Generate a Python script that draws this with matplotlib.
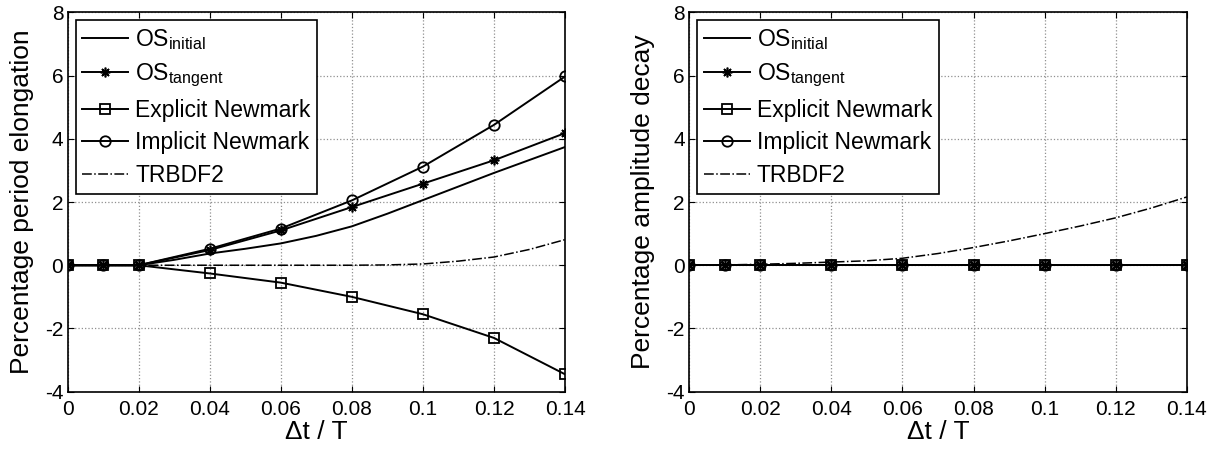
import numpy as np
import matplotlib
matplotlib.use('Agg')
import matplotlib.pyplot as plt
from matplotlib.ticker import FuncFormatter

plt.rcParams['font.family'] = ['Liberation Sans', 'DejaVu Sans']
plt.rcParams['mathtext.default'] = 'regular'
plt.rcParams['axes.unicode_minus'] = False

# marker points
dt = [0, 0.01, 0.02, 0.04, 0.06, 0.08, 0.1, 0.12, 0.14]
# smooth curves read at 0.01 steps
dt_fine = [0, 0.01, 0.02, 0.03, 0.04, 0.05, 0.06, 0.07, 0.08, 0.09, 0.1, 0.11, 0.12, 0.13, 0.14]

# period elongation (%)
pe_os_initial = [0, 0, 0, 0.17, 0.37, 0.52, 0.69, 0.93, 1.23, 1.63, 2.06, 2.49, 2.92, 3.33, 3.74]
pe_os_tangent = [0, 0, 0, 0.48, 1.1, 1.84, 2.58, 3.32, 4.18]
pe_explicit = [0, 0, 0, -0.26, -0.55, -1.0, -1.55, -2.3, -3.45]
pe_implicit = [0, 0, 0, 0.52, 1.16, 2.05, 3.12, 4.44, 5.97]
pe_trbdf2 = [0, 0, 0, 0, 0, 0, 0, 0, 0, 0.01, 0.04, 0.13, 0.26, 0.5, 0.81]

# amplitude decay (%)
ad_os_initial = [0, 0, 0, 0, 0, 0, 0, 0, 0, 0, 0, 0, 0, 0, 0]
ad_os_tangent = [0, 0, 0, 0, 0, 0, 0, 0, 0]
ad_explicit = [0, 0, 0, 0, 0, 0, 0, 0, 0]
ad_implicit = [0, 0, 0, 0, 0, 0, 0, 0, 0]
ad_trbdf2 = [0, 0.01, 0.03, 0.06, 0.1, 0.14, 0.22, 0.37, 0.56, 0.77, 1.0, 1.24, 1.5, 1.81, 2.16]

labels = [r'OS$_{initial}$', r'OS$_{tangent}$', 'Explicit Newmark',
          'Implicit Newmark', 'TRBDF2']
xticks = [0, 0.02, 0.04, 0.06, 0.08, 0.1, 0.12, 0.14]
yticks = [-4, -2, 0, 2, 4, 6, 8]

fig = plt.figure(figsize=(12.21, 4.51), dpi=100)
ax1 = fig.add_axes([0.0553, 0.1315, 0.4075, 0.8412])
ax2 = fig.add_axes([0.5643, 0.1315, 0.4078, 0.8412])

panels = [
    (ax1, pe_os_initial, pe_os_tangent, pe_explicit, pe_implicit, pe_trbdf2,
     'Percentage period elongation'),
    (ax2, ad_os_initial, ad_os_tangent, ad_explicit, ad_implicit, ad_trbdf2,
     'Percentage amplitude decay'),
]

for ax, osi, ost, exn, imn, trb, ylab in panels:
    lw = 1.4
    ax.plot(dt_fine, osi, '-', color='k', lw=lw, label=labels[0])
    # asterisk marker like MATLAB '*'
    ax.plot(dt, ost, '-', color='k', lw=lw, marker=(8, 2, 0), ms=7, mew=1.2,
            label=labels[1])
    ax.plot(dt, exn, '-', color='k', lw=lw, marker='s', ms=7, mfc='none', mew=1.3,
            label=labels[2])
    ax.plot(dt, imn, '-', color='k', lw=lw, marker='o', ms=7.5, mfc='none', mew=1.3,
            label=labels[3])
    ax.plot(dt_fine, trb, '-.', color='k', lw=1.1, label=labels[4])

    ax.set_xlim(0, 0.14)
    ax.set_ylim(-4, 8)
    ax.set_xticks(xticks)
    ax.set_yticks(yticks)
    ax.xaxis.set_major_formatter(FuncFormatter(lambda v, p: '%g' % v))
    ax.yaxis.set_major_formatter(FuncFormatter(lambda v, p: '%g' % v))
    ax.tick_params(direction='in', top=True, right=True, length=4, width=0.8,
                   labelsize=15)
    ax.tick_params(axis='x', pad=6)
    ax.tick_params(axis='y', pad=3)
    ax.grid(True, color='#909090', linestyle=':', linewidth=0.9)
    for s in ax.spines.values():
        s.set_linewidth(1.2)
    ax.set_xlabel('\u0394t / T', fontsize=19, labelpad=1)
    ax.set_ylabel(ylab, fontsize=19, labelpad=8)

    leg = ax.legend(loc='upper left', fontsize=16.5, frameon=True, fancybox=False,
                    edgecolor='k', framealpha=1, handlelength=2.0,
                    handletextpad=0.3, labelspacing=0.42, borderpad=0.3,
                    borderaxespad=0.35)
    leg.get_frame().set_linewidth(1.2)

fig.savefig('out.png', dpi=100)
